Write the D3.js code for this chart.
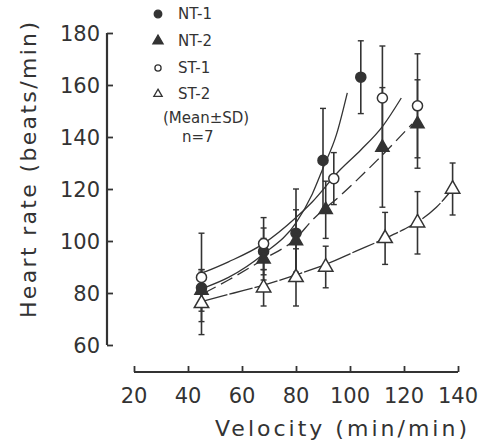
<!DOCTYPE html>
<html>
<head>
<meta charset="utf-8" />
<title>heart rate</title>
<script src="https://cdn.jsdelivr.net/npm/d3@7"></script>
<style>
  body { margin: 0; background: #fff; }
  text { font-family: "DejaVu Sans", sans-serif; fill: #333; }
</style>
</head>
<body>
<svg width="489" height="446"></svg>
<script>
// data
var xTicks = [20, 40, 60, 80, 100, 120, 140];
var yTicks = [60, 80, 100, 120, 140, 160, 180];
var seriesNames = ["NT-1", "NT-2", "ST-1", "ST-2"];

// velocity, mean heart rate, SD
var nt1Vel = [45, 68, 80, 90, 104];
var nt1Hr  = [82, 96, 103, 131, 163];
var nt1Sd  = [7, 9, 17, 20, 14];

var nt2Vel = [45, 68, 80, 91, 112, 125];
var nt2Hr  = [81, 93, 100, 112, 136, 145];
var nt2Sd  = [8, 8, 12, 11, 23, 17];

var st1Vel = [45, 68, 94, 112, 125];
var st1Hr  = [86, 99, 124, 155, 152];
var st1Sd  = [17, 10, 10, 20, 20];

var st2Vel = [45, 68, 80, 91, 113, 125, 138];
var st2Hr  = [76, 82, 86, 90, 101, 107, 120];
var st2Sd  = [12, 7, 11, 8, 10, 12, 10];

// hand drawn fitted curves
var nt1Curve = [[46, 82], [55, 86], [68, 95], [80, 107], [86, 118], [90, 128], [95, 141], [99, 157]];
var nt2Curve = [[46, 80], [55, 85], [68, 93], [80, 101], [86, 108], [97, 118], [110, 131], [123, 145]];
var st1Curve = [[46, 88], [55, 92], [68, 99], [80, 109], [86, 115], [96, 127], [104, 135], [112, 144], [119, 155]];
var st2Curve = [[46, 77], [57, 80], [68, 83], [80, 87], [91, 91], [102, 96], [113, 101], [120, 104.5], [126, 108], [132, 113], [138, 120]];

var svg = d3.select("svg");
var ink = "#333";

var x = d3.scaleLinear().domain([20, 140]).range([134, 458]);
var y = d3.scaleLinear().domain([60, 180]).range([345, 33]);

// y axis
var yAxis = d3.axisRight(y).tickValues(yTicks).tickSize(6).tickFormat("");
var gy = svg.append("g").attr("transform", "translate(107,0)").call(yAxis);
gy.select(".domain").attr("stroke", ink).attr("stroke-width", 2.2).attr("d", "M0," + y(180) + "V" + y(60));
gy.selectAll(".tick line").attr("stroke", ink).attr("stroke-width", 1.8);

svg.selectAll(".ylab").data(yTicks).enter().append("text")
  .attr("class", "ylab")
  .attr("x", 100).attr("y", function(d){ return y(d); })
  .attr("dy", "0.36em")
  .attr("text-anchor", "end")
  .style("font-size", "21px")
  .text(function(d){ return d; });

// x axis
var xAxis = d3.axisTop(x).tickValues(xTicks).tickSize(6).tickFormat("");
var gx = svg.append("g").attr("transform", "translate(0,372)").call(xAxis);
gx.select(".domain").attr("stroke", ink).attr("stroke-width", 2.2).attr("d", "M" + x(20) + ",0H" + x(140));
gx.selectAll(".tick line").attr("stroke", ink).attr("stroke-width", 1.8);

svg.selectAll(".xlab").data(xTicks).enter().append("text")
  .attr("class", "xlab")
  .attr("x", function(d){ return x(d); }).attr("y", 403)
  .attr("text-anchor", "middle")
  .style("font-size", "21px")
  .text(function(d){ return d; });

// axis titles
svg.append("text")
  .attr("x", 215).attr("y", 436)
  .attr("textLength", 252).attr("lengthAdjust", "spacing")
  .style("font-size", "22px")
  .text("Velocity (min/min)");

svg.append("text")
  .attr("transform", "translate(36,318) rotate(-90)")
  .attr("textLength", 296).attr("lengthAdjust", "spacing")
  .style("font-size", "22px")
  .text("Heart rate (beats/min)");

// curves
var line = d3.line()
  .x(function(d){ return x(d[0]); })
  .y(function(d){ return y(d[1]); })
  .curve(d3.curveMonotoneX);

var curves = [
  {pts: nt1Curve, dash: null},
  {pts: nt2Curve, dash: "13,6"},
  {pts: st1Curve, dash: null},
  {pts: st2Curve, dash: "24,2"}
];
svg.selectAll(".fit").data(curves).enter().append("path")
  .attr("class", "fit")
  .attr("d", function(d){ return line(d.pts); })
  .attr("fill", "none")
  .attr("stroke", ink)
  .attr("stroke-width", 1.3)
  .attr("stroke-dasharray", function(d){ return d.dash; });

function rows(v, h, s) {
  return v.map(function(d, i){ return {v: d, hr: h[i], sd: s[i]}; });
}
var series = [
  {name: seriesNames[0], data: rows(nt1Vel, nt1Hr, nt1Sd), shape: d3.symbolCircle, size: 80, fill: ink},
  {name: seriesNames[1], data: rows(nt2Vel, nt2Hr, nt2Sd), shape: d3.symbolTriangle, size: 75, fill: ink},
  {name: seriesNames[2], data: rows(st1Vel, st1Hr, st1Sd), shape: d3.symbolCircle, size: 80, fill: "#fff"},
  {name: seriesNames[3], data: rows(st2Vel, st2Hr, st2Sd), shape: d3.symbolTriangle, size: 90, fill: "#fff"}
];

// error bars
series.forEach(function(s){
  var g = svg.append("g");
  s.data.forEach(function(d){
    var cx = x(d.v), top = y(d.hr + d.sd), bot = y(d.hr - d.sd);
    g.append("line").attr("x1", cx).attr("x2", cx).attr("y1", top).attr("y2", bot)
      .attr("stroke", ink).attr("stroke-width", 1.6);
    [top, bot].forEach(function(yy){
      g.append("line").attr("x1", cx - 3).attr("x2", cx + 3).attr("y1", yy).attr("y2", yy)
        .attr("stroke", ink).attr("stroke-width", 1.4);
    });
  });
});

// markers
series.forEach(function(s){
  svg.append("g").selectAll("path").data(s.data).enter().append("path")
    .attr("transform", function(d){ return "translate(" + x(d.v) + "," + y(d.hr) + ")"; })
    .attr("d", d3.symbol().type(s.shape).size(s.size))
    .attr("fill", s.fill)
    .attr("stroke", ink)
    .attr("stroke-width", 1.5);
});

// legend
var legY = [14, 41, 68, 94];
var leg = svg.append("g");
series.forEach(function(s, i){
  leg.append("path")
    .attr("transform", "translate(158," + legY[i] + ")")
    .attr("d", d3.symbol().type(s.shape).size(s.fill === ink ? 45 : 30))
    .attr("fill", s.fill).attr("stroke", ink).attr("stroke-width", 1.3);
  leg.append("text")
    .attr("x", 178).attr("y", legY[i]).attr("dy", "0.36em")
    .style("font-size", "15px")
    .text(s.name);
});
leg.append("text").attr("x", 163).attr("y", 118).attr("dy", "0.36em")
  .style("font-size", "15px").text("(Mean±SD)");
leg.append("text").attr("x", 182).attr("y", 137).attr("dy", "0.36em")
  .style("font-size", "15px").text("n=7");
</script>
</body>
</html>
